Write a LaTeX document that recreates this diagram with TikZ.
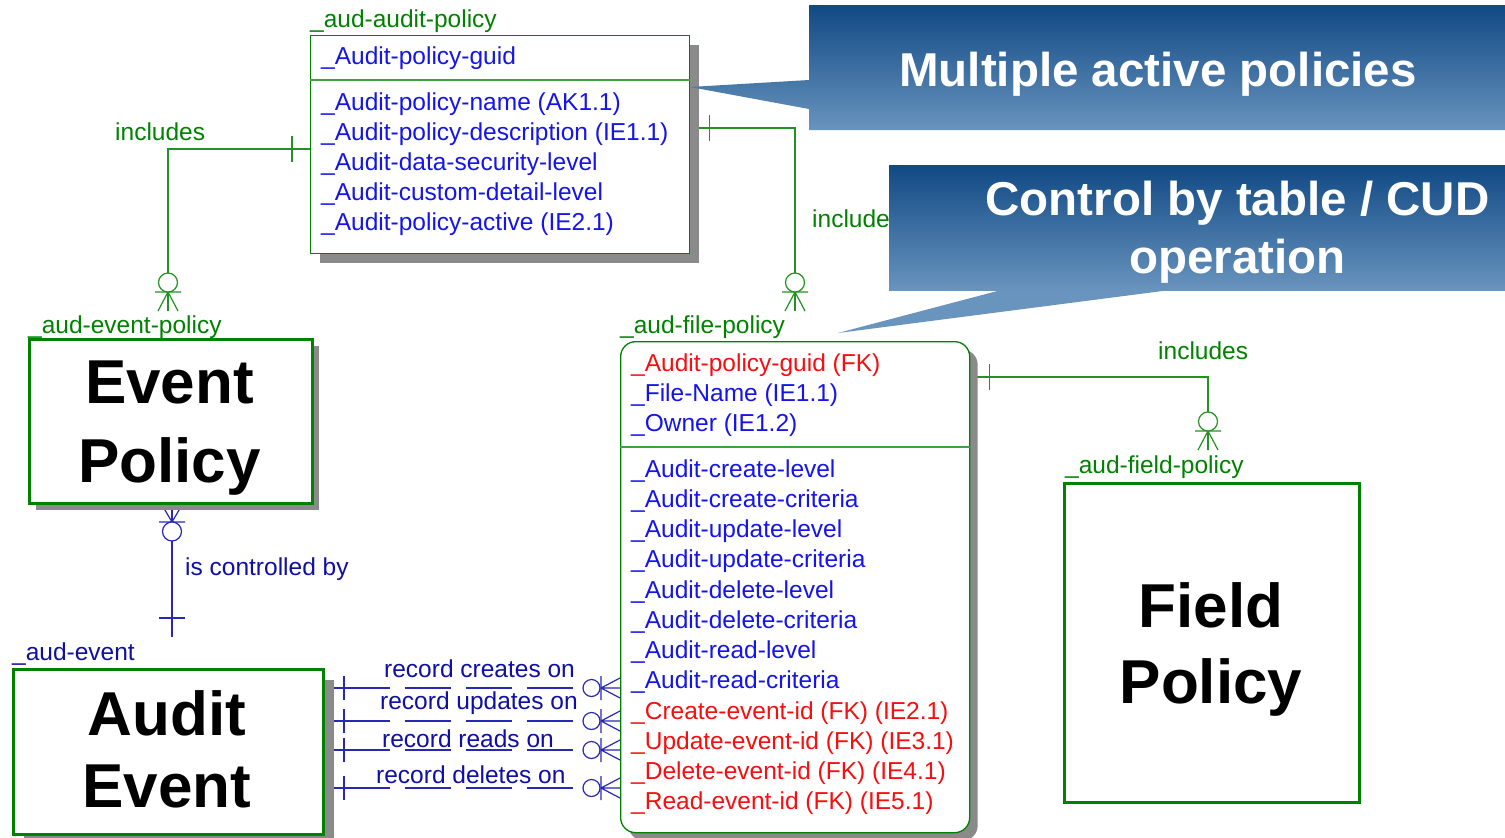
\documentclass[tikz,border=0pt]{standalone}
\usepackage{fontspec}
\setmainfont{Liberation Sans}
\usetikzlibrary{shadows}
\pgfdeclarelayer{bg}
\pgfdeclarelayer{conn}
\pgfsetlayers{bg,conn,main}

\definecolor{erGreen}{RGB}{0,130,0}
\definecolor{relGreen}{RGB}{35,145,35}
\definecolor{erNavy}{RGB}{15,15,165}
\definecolor{relNavy}{RGB}{40,40,180}
\definecolor{attBlue}{RGB}{20,20,235}
\definecolor{fkRed}{RGB}{245,15,15}
\definecolor{shadeGray}{RGB}{138,138,138}
\definecolor{calTop}{RGB}{17,73,132}
\definecolor{calBot}{RGB}{104,148,190}

\newcommand\attfont{\fontsize{24.5}{30}\selectfont}
\newcommand\bigfont[1]{\fontsize{62}{#1}\selectfont\bfseries}
\newcommand\us{\textunderscore}

\tikzset{
  ent/.style={draw=erGreen, line width=1.3pt, fill=white, anchor=north west, inner sep=0pt},
  thickent/.style={ent, line width=3pt},
  entshadow/.style={drop shadow={shadow xshift=#1, shadow yshift=-#1, opacity=1, fill=shadeGray}},
  lbl/.style={anchor=base west, inner sep=0pt, font=\attfont},
  attr/.style={lbl, text=attBlue},
  fk/.style={lbl, text=fkRed},
  glbl/.style={lbl, text=erGreen},
  nlbl/.style={lbl, text=erNavy},
  bigtxt/.style={anchor=base, inner sep=0pt, align=center, text=black},
  caltxt/.style={anchor=base, inner sep=0pt, align=center, text=white,
    font=\fontsize{47.5}{58}\selectfont\bfseries},
  grel/.style={draw=relGreen, line width=1.2pt},
  nrel/.style={draw=relNavy, line width=1.2pt},
  gpic/.style={color=relGreen, line width=1.2pt},
  npic/.style={color=relNavy, line width=1.2pt},
  recdash/.style={dash pattern=on 64.5pt off 15pt on 46pt off 15pt on 46pt off 15pt on 46pt off 300pt},
  % zero-or-many end, entity below the end point
  zmdown/.pic={
    \draw (0,-19) -- (0,0) (0,-19) -- (-10,0) (0,-19) -- (10,0) (-13,-19) -- (13,-19);
    \draw[fill=white] (0,-28.5) circle[radius=9.5];
  },
  % zero-or-many end, entity above the end point
  zmup/.pic={
    \draw (0,17) -- (0,0) (0,17) -- (-10,0) (0,17) -- (10,0) (-13,17) -- (13,17);
    \draw[fill=white] (0,26.5) circle[radius=9.5];
  },
  % zero-or-many end, entity to the right of the end point
  zmleft/.pic={
    \draw (-19,0) -- (0,0) (-19,0) -- (0,-10) (-19,0) -- (0,10) (-19,-12) -- (-19,12);
    \draw[fill=white] (-28.5,0) circle[radius=8.5];
  }
}

\begin{document}
\begin{tikzpicture}[x=1pt,y=-1pt]
\begin{pgfonlayer}{bg}
  \fill[white] (0,0) rectangle (1505,838);
\end{pgfonlayer}
\useasboundingbox (0,0) rectangle (1505,838);

% ---- _aud-audit-policy ----
\node[ent, entshadow=9pt, minimum width=379pt, minimum height=218pt] (ap) at (310,35) {};
\coordinate (apdiv) at (0,80);
\draw[erGreen!75!white, line width=1.2pt] (ap.west |- apdiv) -- (ap.east |- apdiv);
\node[glbl] (aplbl) at (310,27) {\us aud-audit-policy};
\node[attr] (ap1) at (321,64) {\us Audit-policy-guid};
\node[attr] (ap2) at (321,110) {\us Audit-policy-name (AK1.1)};
\node[attr] (ap3) at (321,140) {\us Audit-policy-description (IE1.1)};
\node[attr] (ap4) at (321,170) {\us Audit-data-security-level};
\node[attr] (ap5) at (321,200) {\us Audit-custom-detail-level};
\node[attr] (ap6) at (321,230) {\us Audit-policy-active (IE2.1)};

% ---- _aud-file-policy ----
\node[ent, rounded corners=15pt, entshadow=8pt, minimum width=349pt, minimum height=491pt] (fp) at (620,341) {};
\coordinate (fpdiv) at (0,447);
\draw[erGreen!75!white, line width=1.2pt] (fp.west |- fpdiv) -- (fp.east |- fpdiv);
\node[glbl] (fplbl) at (620,333) {\us aud-file-policy};
\node[fk]   (fp1)  at (631,371) {\us Audit-policy-guid (FK)};
\node[attr] (fp2)  at (631,401) {\us File-Name (IE1.1)};
\node[attr] (fp3)  at (631,431) {\us Owner (IE1.2)};
\node[attr] (fp4)  at (631,477) {\us Audit-create-level};
\node[attr] (fp5)  at (631,507) {\us Audit-create-criteria};
\node[attr] (fp6)  at (631,537) {\us Audit-update-level};
\node[attr] (fp7)  at (631,567) {\us Audit-update-criteria};
\node[attr] (fp8)  at (631,598) {\us Audit-delete-level};
\node[attr] (fp9)  at (631,628) {\us Audit-delete-criteria};
\node[attr] (fp10) at (631,658) {\us Audit-read-level};
\node[attr] (fp11) at (631,688) {\us Audit-read-criteria};
\node[fk]   (fp12) at (631,719) {\us Create-event-id (FK) (IE2.1)};
\node[fk]   (fp13) at (631,749) {\us Update-event-id (FK) (IE3.1)};
\node[fk]   (fp14) at (631,779) {\us Delete-event-id (FK) (IE4.1)};
\node[fk]   (fp15) at (631,809) {\us Read-event-id (FK) (IE5.1)};

% ---- _aud-event-policy ----
\node[thickent, entshadow=6pt, minimum width=283pt, minimum height=164pt] (ep) at (28,338) {};
\node[glbl] (eplbl) at (28,333) {\us aud-event-policy};
\node[bigtxt, font={\bigfont{79}}] (eptxt) at (169.5,482) {Event\\Policy};

% ---- _aud-event ----
\node[thickent, entshadow=10pt, minimum width=310pt, minimum height=165pt] (ae) at (12,668) {};
\node[nlbl] (aelbl) at (12,660) {\us aud-event};
\node[bigtxt, font={\bigfont{72}}] (aetxt) at (167,807) {Audit\\Event};

% ---- _aud-field-policy ----
\node[thickent, minimum width=295pt, minimum height=319pt] (fld) at (1063,482) {};
\node[glbl] (fldlbl) at (1065,473) {\us aud-field-policy};
\node[bigtxt, font={\bigfont{76}}] (fldtxt) at (1211,703) {Field\\Policy};

% ---- relationships ----
\begin{pgfonlayer}{conn}
  % audit-policy includes event-policy
  \coordinate (r1a) at (168,149);
  \coordinate (r1b) at (168,311);
  \draw[grel] (ap.west |- r1a) -- (r1a) -- (r1b);
  \draw[grel] (ap.west |- r1a) ++(-18,-13) -- ++(0,26);
  \pic[gpic] at (r1b) {zmdown};

  % audit-policy includes file-policy
  \coordinate (r2a) at (795,128);
  \coordinate (r2b) at (795,311);
  \draw[grel] (ap.east |- r2a) -- (r2a) -- (r2b);
  \draw[grel] (ap.east |- r2a) ++(19,-13) -- ++(0,26);
  \pic[gpic] at (r2b) {zmdown};

  % file-policy includes field-policy
  \coordinate (r4a) at (1208,377);
  \coordinate (r4b) at (1208,450);
  \draw[grel] (fp.east |- r4a) -- (r4a) -- (r4b);
  \draw[grel] (fp.east |- r4a) ++(19,-13) -- ++(0,26);
  \pic[gpic] at (r4b) {zmdown};

  % event-policy is controlled by audit-event
  \coordinate (r3b) at (172,637);
  \draw[nrel] (r3b |- ep.south) -- (r3b);
  \draw[nrel] (r3b) ++(-13,-19) -- ++(26,0);
  \pic[npic] at (r3b |- ep.south) {zmup};

  % audit-event records on file-policy
  \foreach \n/\y in {c/688, u/721, r/750, d/788} {
    \coordinate (rec\n) at (582,\y);
    \draw[nrel, recdash] (ae.east |- rec\n) -- (rec\n);
    \draw[nrel] (ae.east |- rec\n) ++(19,-12) -- ++(0,24);
    \pic[npic] at (fp.west |- rec\n) {zmleft};
  }
\end{pgfonlayer}

% relationship names
\node[glbl] (inc1) at (115,140) {includes};
\node[glbl] (inc2) at (812,227) {includes};
\node[glbl] (inc3) at (1158,359) {includes};
\node[nlbl] (ctl) at (185,575) {is controlled by};
\node[nlbl] (lc) at (384,677) {record creates on};
\node[nlbl] (lu) at (380,709) {record updates on};
\node[nlbl] (lr) at (382,747) {record reads on};
\node[nlbl] (ld) at (376,783) {record deletes on};

% ---- callouts ----
\shade[top color=calTop, bottom color=calBot]
  (809,5) -- (1512,5) -- (1512,130) -- (809,130) -- (809,109) -- (690,87) -- (809,80) -- cycle;
\node[caltxt] (c1) at (1158,86) {Multiple active policies};

\fill[calBot] (1005,289) -- (838,333) -- (1178,289) -- cycle;
\shade[top color=calTop, bottom color=calBot] (889,165) rectangle (1512,290);
\node[caltxt] (c2) at (1237.5,273) {Control by table / CUD\\operation};
\end{tikzpicture}
\end{document}
